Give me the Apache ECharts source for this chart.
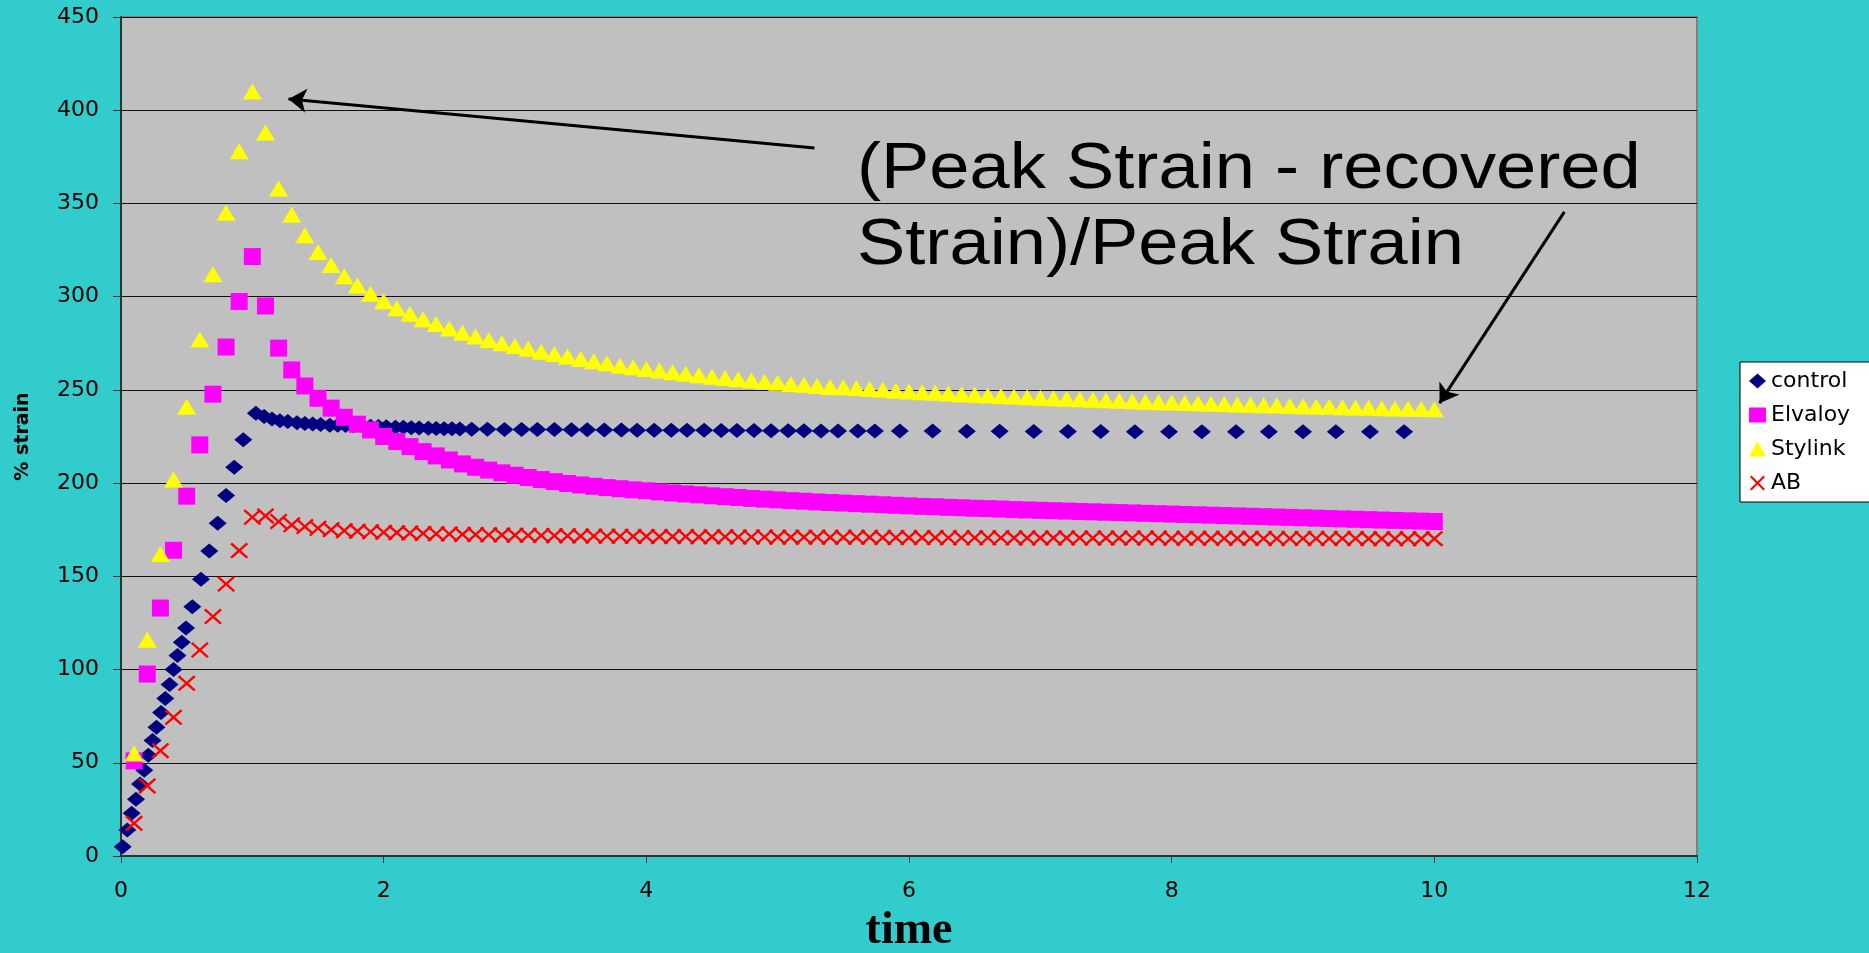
<!DOCTYPE html>
<html>
<head>
<meta charset="utf-8">
<script src="https://cdn.jsdelivr.net/npm/echarts@6/dist/echarts.min.js"></script>
<style>
html,body{margin:0;padding:0;background:#33CCCC;}
#chart{width:1869px;height:953px;}
</style>
</head>
<body>
<div id="chart"></div>
<script>
// ---- data ----
const seriesNames = ['control', 'Elvaloy', 'Stylink', 'AB'];

const controlTime = [0.013,0.048,0.081,0.114,0.145,0.177,0.208,0.24,0.27,0.305,0.337,0.37,0.40,0.43,0.463,0.495,
  0.543,0.609,0.672,0.736,0.80,0.862,0.931,1.027,
  1.09,1.15,1.21,1.27,1.34,1.40,1.46,1.52,1.59,1.65,1.71,1.77,1.84,1.90,1.96,2.02,2.09,2.15,2.21,2.27,2.34,2.40,2.46,2.52,2.58,
  2.67,2.79,2.92,3.05,3.17,3.30,3.43,3.55,3.68,3.81,3.93,4.06,4.19,4.31,4.44,4.57,4.69,4.82,4.95,5.08,5.20,5.33,5.46,5.61,5.74,
  5.93,6.18,6.44,6.69,6.95,7.21,7.46,7.72,7.98,8.23,8.49,8.74,9.00,9.25,9.51,9.77];
const controlStrain = [5.0,14,22.9,30.4,38.6,46,54,62,69,77,84.5,92,100,107.5,114.7,122.3,
  133.7,148.4,163.6,178.5,193.3,208.5,223.2,237.5,
  235.7,234.4,233.5,233.0,232.4,232.0,231.7,231.4,231.1,231.0,230.9,230.7,230.6,230.5,230.3,230.2,230.0,229.9,229.7,229.6,229.4,229.3,229.2,229.1,229.0,
  228.9,228.9,228.8,228.8,228.7,228.7,228.6,228.6,228.5,228.5,228.4,228.4,228.3,228.3,228.3,228.2,228.2,228.2,228.1,228.1,228.1,228.0,228.0,228.0,227.9,
  227.9,227.9,227.8,227.8,227.7,227.7,227.7,227.6,227.6,227.6,227.6,227.5,227.5,227.5,227.5,227.5];

const sampleTime = [0.1,0.2,0.3,0.4,0.5,0.6,0.7,0.8,0.9,1.0,
  1.1,1.2,1.3,1.4,1.5,1.6,1.7,1.8,1.9,2.0,
  2.1,2.2,2.3,2.4,2.5,2.6,2.7,2.8,2.9,3.0,
  3.1,3.2,3.3,3.4,3.5,3.6,3.7,3.8,3.9,4.0,
  4.1,4.2,4.3,4.4,4.5,4.6,4.7,4.8,4.9,5.0,
  5.1,5.2,5.3,5.4,5.5,5.6,5.7,5.8,5.9,6.0,
  6.1,6.2,6.3,6.4,6.5,6.6,6.7,6.8,6.9,7.0,
  7.1,7.2,7.3,7.4,7.5,7.6,7.7,7.8,7.9,8.0,
  8.1,8.2,8.3,8.4,8.5,8.6,8.7,8.8,8.9,9.0,
  9.1,9.2,9.3,9.4,9.5,9.6,9.7,9.8,9.9,10.0];

const elvaloyStrain = [51,97.6,133,164,193,220.5,247.7,273,297.4,321.5,
  295,272.4,260.7,252.1,245.5,240.2,235.3,231.6,228.5,225.0,
  222.3,219.6,216.9,214.6,212.4,210.3,208.5,207.0,205.5,204.2,
  203.0,201.9,200.8,199.8,199.0,198.3,197.6,197.0,196.4,195.9,
  195.3,194.7,194.2,193.7,193.2,192.7,192.3,191.8,191.4,191.0,
  190.6,190.3,189.9,189.6,189.3,189.0,188.7,188.4,188.1,187.8,
  187.5,187.3,187.0,186.8,186.5,186.3,186.1,185.8,185.6,185.4,
  185.2,185.0,184.8,184.6,184.4,184.2,184.0,183.8,183.6,183.4,
  183.2,183.0,182.8,182.6,182.4,182.2,182.0,181.8,181.6,181.4,
  181.2,181.0,180.8,180.6,180.4,180.2,180.0,179.8,179.6,179.4];

const stylinkStrain = [55,116,162,202,241,277,312,345,378,410,
  388,358,344,333,324,317,311,306,301.5,297.5,
  293.8,290.8,287.9,285.4,282.9,280.7,278.6,276.8,275.0,273.6,
  272.0,270.5,269.3,267.9,266.6,265.4,264.3,263.0,262.1,261.2,
  260.4,259.5,258.6,257.9,257.1,256.4,255.7,255.0,254.3,253.8,
  253.2,252.7,252.1,251.6,251.4,251.0,250.5,250.1,249.6,249.2,
  248.8,248.5,248.1,247.7,247.4,247.0,246.7,246.4,246.1,245.8,
  245.5,245.2,245.0,244.7,244.4,244.2,243.9,243.7,243.4,243.2,
  243.0,242.8,242.6,242.4,242.2,242.0,241.8,241.6,241.4,241.2,
  241.0,240.9,240.7,240.5,240.4,240.2,240.0,239.9,239.7,239.6];

const abStrain = [17.5,37.6,56.5,74.4,92.6,110.5,128.4,145.9,163.8,181.7,
  182.4,179.4,177.6,176.7,175.8,175.0,174.5,174.2,173.9,173.6,
  173.4,173.2,173.0,172.8,172.7,172.5,172.4,172.3,172.2,172.1,
  172.0,171.9,171.8,171.7,171.6,171.6,171.5,171.5,171.4,171.4,
  171.3,171.3,171.3,171.2,171.2,171.2,171.1,171.1,171.1,171.0,
  171.0,171.0,171.0,170.9,170.9,170.9,170.9,170.8,170.8,170.8,
  170.8,170.8,170.7,170.7,170.7,170.7,170.7,170.6,170.6,170.6,
  170.6,170.6,170.6,170.5,170.5,170.5,170.5,170.5,170.5,170.4,
  170.4,170.4,170.4,170.4,170.4,170.4,170.3,170.3,170.3,170.3,
  170.3,170.3,170.3,170.3,170.2,170.2,170.2,170.2,170.2,170.2];

const xTicks = {min: 0, max: 12, interval: 2};
const yTicks = {min: 0, max: 450, interval: 50};

const annotationText = '(Peak Strain - recovered\nStrain)/Peak Strain';
// arrows in data coordinates: [from, to]
const arrow1 = [[5.28, 379.8], [1.275, 406]];
const arrow2 = [[10.99, 345.5], [10.04, 242.9]];

// ---- chart ----
const pairs = (xs, ys) => xs.map((x, i) => [x, ys[i]]);
const xPath = 'path://M0,1.6L1.6,0L8,6.4L14.4,0L16,1.6L9.6,8L16,14.4L14.4,16L8,9.6L1.6,16L0,14.4L6.4,8Z';

const chart = echarts.init(document.getElementById('chart'), null, {renderer: 'canvas'});
const tickFont = {fontFamily: 'DejaVu Sans', fontSize: 22, color: '#000'};

chart.setOption({
  backgroundColor: '#33CCCC',
  animation: false,
  grid: {
    left: 121, right: 172, top: 17, bottom: 97,
    outerBoundsMode: 'none',
    containLabel: false,
    show: true, backgroundColor: '#C0C0C0', borderColor: '#808080', borderWidth: 2
  },
  legend: {
    orient: 'vertical',
    left: 1740, top: 362,
    backgroundColor: '#FFFFFF',
    borderColor: '#000', borderWidth: 1,
    padding: [8, 40, 8, 9],
    itemWidth: 17, itemHeight: 15,
    itemGap: 12,
    textStyle: {fontFamily: 'DejaVu Sans', fontSize: 22, color: '#000'},
    data: seriesNames
  },
  xAxis: {
    type: 'value', min: xTicks.min, max: xTicks.max, interval: xTicks.interval,
    name: 'time', nameLocation: 'middle', nameGap: 52,
    nameTextStyle: {fontFamily: 'Liberation Serif', fontWeight: 'bold', fontSize: 46, color: '#000'},
    axisLine: {show: true, onZero: false, lineStyle: {color: '#303030', width: 2}},
    axisTick: {show: true, length: 7, lineStyle: {color: '#303030', width: 1}},
    axisLabel: Object.assign({margin: 24}, tickFont),
    splitLine: {show: false}
  },
  yAxis: {
    type: 'value', min: yTicks.min, max: yTicks.max, interval: yTicks.interval,
    name: '% strain', nameLocation: 'middle', nameGap: 88, nameRotate: 90,
    nameTextStyle: {fontFamily: 'DejaVu Sans', fontWeight: 'bold', fontSize: 19, color: '#000'},
    axisLine: {show: true, lineStyle: {color: '#303030', width: 2}},
    axisTick: {show: true, length: 8, lineStyle: {color: '#303030', width: 1}},
    axisLabel: Object.assign({margin: 22}, tickFont),
    splitLine: {show: true, lineStyle: {color: '#111', width: 1}}
  },
  graphic: [{
    type: 'text',
    x: 857, y: 132,
    scaleX: 1.13, scaleY: 1,
    style: {
      text: annotationText,
      font: '64px "Liberation Sans"',
      fill: '#000',
      lineHeight: 76,
      textAlign: 'left',
      textVerticalAlign: 'top'
    },
    z: 100
  }],
  series: [
    {
      name: 'control', type: 'scatter',
      symbol: 'diamond', symbolSize: [18, 15],
      itemStyle: {color: '#000080', opacity: 1},
      data: pairs(controlTime, controlStrain)
    },
    {
      name: 'Elvaloy', type: 'scatter',
      symbol: 'rect', symbolSize: [17, 17],
      itemStyle: {color: '#FF00FF', opacity: 1},
      data: pairs(sampleTime, elvaloyStrain)
    },
    {
      name: 'Stylink', type: 'scatter',
      symbol: 'triangle', symbolSize: [19, 16],
      itemStyle: {color: '#FFFF00', opacity: 1},
      data: pairs(sampleTime, stylinkStrain),
      markLine: {
        silent: true,
        symbol: ['none', 'arrow'],
        symbolSize: 18,
        label: {show: false},
        emphasis: {disabled: true},
        lineStyle: {color: '#000', width: 3, type: 'solid'},
        itemStyle: {color: '#000'},
        data: [
          [{coord: arrow1[0]}, {coord: arrow1[1]}],
          [{coord: arrow2[0]}, {coord: arrow2[1]}]
        ]
      }
    },
    {
      name: 'AB', type: 'scatter',
      symbol: xPath, symbolSize: [18, 16],
      itemStyle: {color: '#FF0000', opacity: 1},
      data: pairs(sampleTime, abStrain)
    }
  ]
});
</script>
</body>
</html>
